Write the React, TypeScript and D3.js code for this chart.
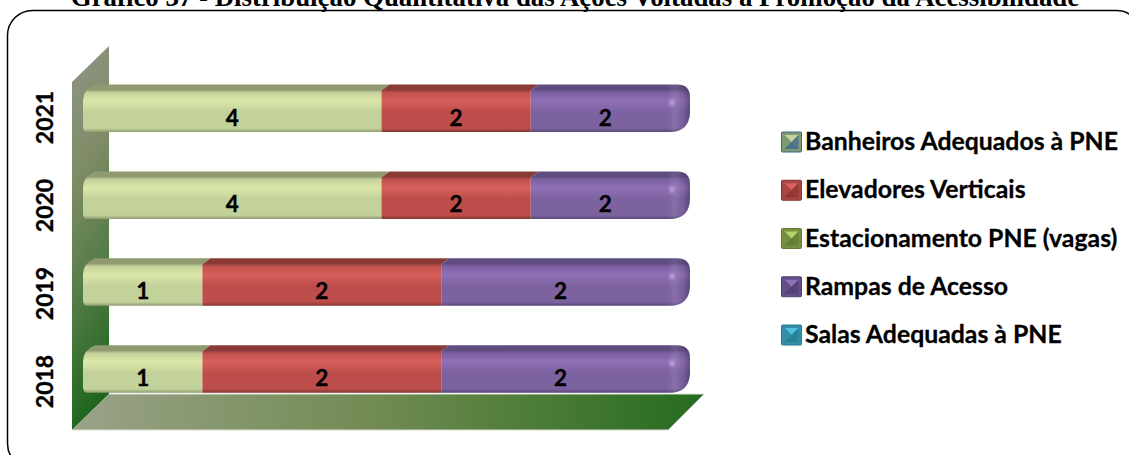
import React from "react";
import * as d3 from "d3";

const years = ["2018", "2019", "2020", "2021"];
const banheiros = [0, 0, 0, 0];
const elevadores = [2, 2, 2, 2];
const estacionamento = [1, 1, 4, 4];
const rampas = [2, 2, 2, 2];
const salas = [0, 0, 0, 0];
const title = "Gráfico 37 - Distribuição Quantitativa das Ações Voltadas à Promoção da Acessibilidade";
const legendLabels = ["Banheiros Adequados à PNE", "Elevadores Verticais", "Estacionamento PNE (vagas)", "Rampas de Acesso", "Salas Adequadas à PNE"];
const legendColors = [
  ["#3f6797", "#c9d3a0", "#7f9a70"],
  ["#8c3533", "#d9605c", "#a84643"],
  ["#647a37", "#b5d36a", "#76903f"],
  ["#51406f", "#8f72b8", "#63508a"],
  ["#2a7d92", "#4fc0dc", "#318ea8"],
];
const stackOrder = ["estacionamento", "banheiros", "elevadores", "rampas", "salas"];
const palettes: Record<string, string[]> = {
  estacionamento: ["#8f9a70", "#c5d19c", "#dbe8a8", "#c3d29a", "#8e9a70"],
  elevadores: ["#8a3b38", "#c0504d", "#d95f5b", "#bd4d4a", "#7f3634"],
  rampas: ["#5f4d80", "#7c60a1", "#8f70b6", "#7d62a0", "#594878"],
  banheiros: ["#3f6797", "#4f81bd", "#5f95d6", "#4f81bd", "#3f6797"],
  salas: ["#2a7d92", "#4bacc6", "#5cc5e0", "#4bacc6", "#2a7d92"],
};

const rows = years.map((year, i) => ({
  year,
  banheiros: banheiros[i],
  elevadores: elevadores[i],
  estacionamento: estacionamento[i],
  rampas: rampas[i],
  salas: salas[i],
}));

const X0 = 83, X1 = 680, CAP = 10, SLANT = 8, TOPH = 6;
const sans = "Lato";

export default function App() {
  const y = d3.scaleBand().domain([...years].reverse()).range([75.82, 401.4]).paddingInner(0.4527).paddingOuter(0.1);
  const yearPos = d3.scalePoint().domain(years).range([381.5, 117.5]);
  const x = d3.scaleLinear().domain([0, 1]).range([X0, X1]);
  const legendY = d3.scalePoint().domain(legendLabels).range([142, 335]);
  const series = d3.stack<any>().keys(stackOrder).offset(d3.stackOffsetExpand)(rows);
  const bh = y.bandwidth();
  const XE = X1 + CAP;

  return (
    <svg width={1129} height={455} style={{ position: "absolute", left: 0, top: 0, background: "#fff" }}>
      <defs>
        <linearGradient id="wall" x1="0" y1="0" x2="0.15" y2="1">
          <stop offset="0" stopColor="#8f9588" />
          <stop offset="0.35" stopColor="#7f8c66" />
          <stop offset="0.7" stopColor="#4f7a42" />
          <stop offset="1" stopColor="#1f661f" />
        </linearGradient>
        <linearGradient id="floor" x1="0" y1="0" x2="1" y2="0">
          <stop offset="0" stopColor="#9aa288" />
          <stop offset="0.5" stopColor="#6f8a50" />
          <stop offset="1" stopColor="#256b20" />
        </linearGradient>
        {stackOrder.map((k) => (
          <linearGradient key={k} id={`g-${k}`} x1="0" y1="0" x2="0" y2="1">
            <stop offset="0" stopColor={palettes[k][0]} />
            <stop offset="0.11" stopColor={palettes[k][0]} />
            <stop offset="0.17" stopColor={palettes[k][1]} />
            <stop offset="0.34" stopColor={palettes[k][2]} />
            <stop offset="0.58" stopColor={palettes[k][3]} />
            <stop offset="0.92" stopColor={palettes[k][3]} />
            <stop offset="1" stopColor={palettes[k][4]} />
          </linearGradient>
        ))}
        <radialGradient id="glint" cx="0.5" cy="0.5" r="0.5">
          <stop offset="0" stopColor="#c0acdc" />
          <stop offset="1" stopColor="#8a6db0" stopOpacity="0" />
        </radialGradient>
        <linearGradient id="capShade" x1="0" y1="0" x2="1" y2="0">
          <stop offset="0" stopColor="#fff" stopOpacity="0" />
          <stop offset="0.35" stopColor="#fff" stopOpacity="0.08" />
          <stop offset="0.7" stopColor="#2c1f47" stopOpacity="0.08" />
          <stop offset="1" stopColor="#2c1f47" stopOpacity="0.42" />
        </linearGradient>
      </defs>

      <text x={575} y={5.5} textAnchor="middle" fontFamily="'Liberation Serif'" fontWeight="bold" fontSize={26.85}>{title}</text>
      <rect x={7.5} y={10.5} width={1134} height={458} rx={25} fill="none" stroke="#000" strokeWidth={1.5} />

      <path d="M72,82 L109,46 L109,394 L72,430 Z" fill="url(#wall)" />
      <path d="M72,430 L109,394 L704,394 L668,430 Z" fill="url(#floor)" />
      <path d="M72,430 L668,430" stroke="#d8dcd0" strokeWidth={1} />
      <path d="M109,394 L704,394" stroke="#e4e4dc" strokeWidth={1} />

      {rows.map((r, idx) => {
        const top = y(r.year) as number;
        const capPath = (from: number) =>
          `L${XE - 13},${top} Q${XE},${top} ${XE},${top + 13} L${XE},${top + 28} Q${XE - 1},${top + bh} ${XE - 20},${top + bh} L${from},${top + bh} Z`;
        return (
          <g key={r.year}>
            {series.map((s) => {
              const [a, b] = s[idx];
              if (b - a <= 0) return null;
              const isFirst = a === 0;
              const isLast = b === 1;
              const xa = x(a), xb = x(b);
              const d = isLast
                ? `M${xa},${top + bh} L${xa},${top + TOPH} L${xa + SLANT},${top} ${capPath(xa)}`
                : isFirst
                ? `M${xa + 4},${top + bh} Q${xa},${top + bh} ${xa},${top + bh - 6} L${xa},${top + 16} Q${xa},${top + 5} ${xa + 12},${top} L${xb + SLANT},${top} L${xb},${top + TOPH} L${xb},${top + bh} Z`
                : `M${xa},${top + bh} L${xa},${top + TOPH} L${xa + SLANT},${top} L${xb + SLANT},${top} L${xb},${top + TOPH} L${xb},${top + bh} Z`;
              return <path key={s.key} d={d} fill={`url(#g-${s.key})`} />;
            })}
            <path d={`M${XE - 23},${top} ${capPath(XE - 23)}`} fill="url(#capShade)" />
            <ellipse cx={XE - 18} cy={top + 18} rx={6} ry={7} fill="url(#glint)" />
            {series.map((s) => {
              const [a, b] = s[idx];
              if (b - a <= 0) return null;
              const v = (r as any)[s.key];
              return (
                <text key={s.key} x={(x(a) + x(b)) / 2} y={top + 41} textAnchor="middle" fontFamily={sans} fontWeight="bold" fontSize={22.5} fill="#000" stroke="#000" strokeWidth={0.35}>
                  {v}
                </text>
              );
            })}
            <text transform={`translate(53,${yearPos(r.year)}) rotate(-90)`} textAnchor="middle" fontFamily={sans} fontWeight="bold" fontSize={23} fill="#000" stroke="#000" strokeWidth={0.35}>
              {r.year}
            </text>
          </g>
        );
      })}

      {legendLabels.map((label, i) => {
        const ly = legendY(label) as number;
        const s = 20;
        const left = 781.5;
        const top = ly - 10;
        const [edge, light, mid] = legendColors[i];
        const cx = left + s / 2, cy = top + s / 2;
        return (
          <g key={label}>
            <rect x={left} y={top} width={s} height={s} fill={mid} stroke={edge} strokeWidth={1} rx={1} />
            <path d={`M${left + 3},${top + 3} L${left + s - 3},${top + 3} L${cx},${cy} Z`} fill={light} />
            <path d={`M${left + 3},${top + 3} L${cx},${cy} L${left + 3},${top + s - 3} Z`} fill={mid} opacity={0.9} />
            <path d={`M${left + 3},${top + s - 3} L${cx},${cy} L${left + s - 3},${top + s - 3} Z`} fill={edge} opacity={0.85} />
            <path d={`M${left + s - 3},${top + 3} L${cx},${cy} L${left + s - 3},${top + s - 3} Z`} fill={edge} opacity={0.7} />
            <text x={805} y={ly + 8} fontFamily={sans} fontWeight="bold" fontSize={24.8} fill="#000" stroke="#000" strokeWidth={0.3}>{label}</text>
          </g>
        );
      })}
    </svg>
  );
}
